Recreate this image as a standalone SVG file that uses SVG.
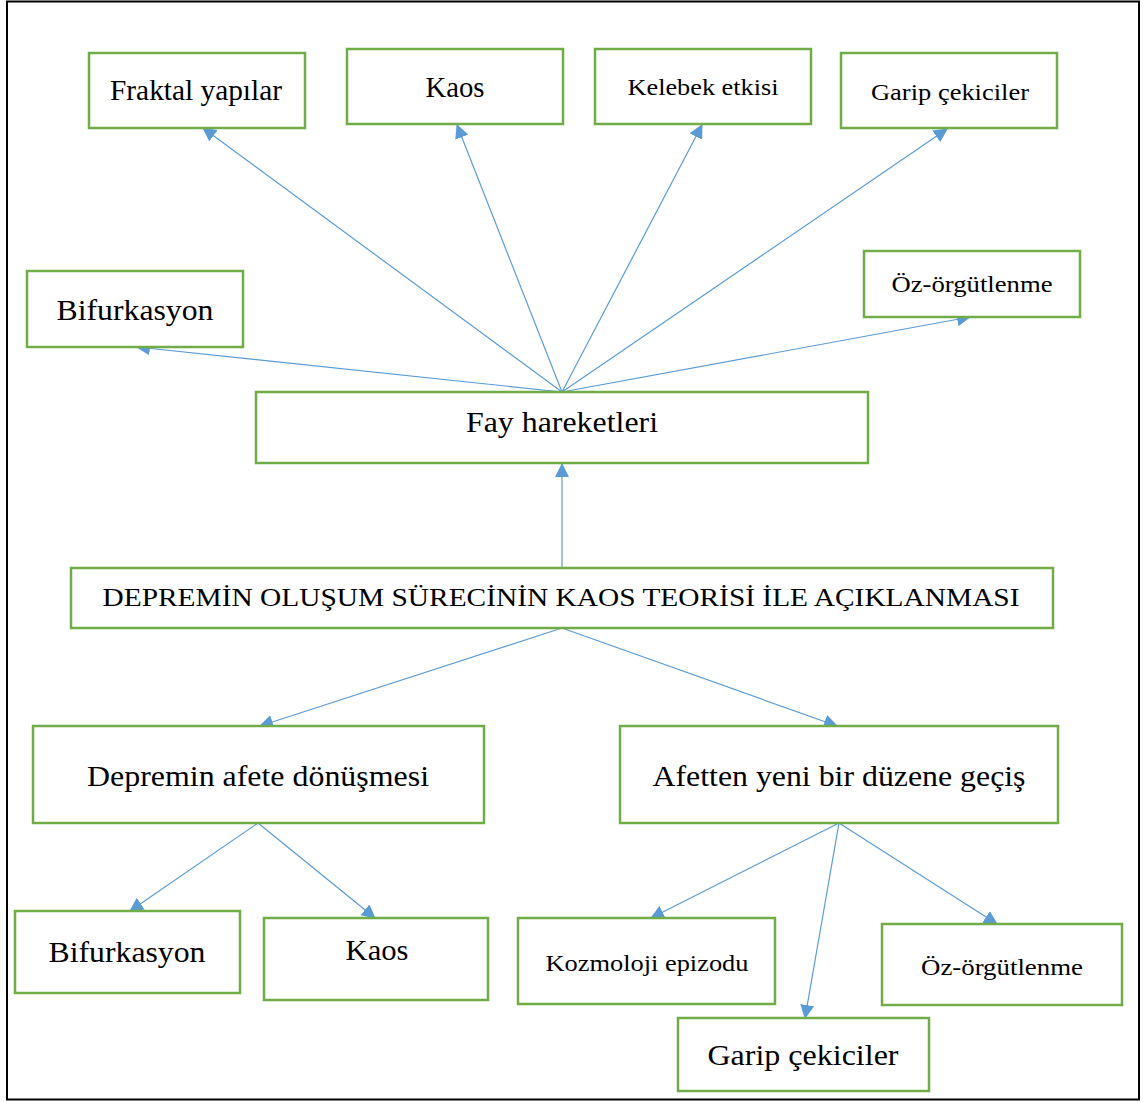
<svg xmlns="http://www.w3.org/2000/svg" width="1146" height="1102" viewBox="0 0 1146 1102">
<style>
.box{fill:#fff;stroke:#70AD47;stroke-width:2.5}
.t{font-family:"Liberation Serif","Times New Roman",serif;fill:#000;text-anchor:middle}
.l{font-size:29px}
.s{font-size:24px}
.c{stroke:#5B9BD5;stroke-width:1.2;fill:none;marker-end:url(#ah)}
</style>
<defs>
<marker id="ah" markerUnits="userSpaceOnUse" markerWidth="14" markerHeight="14" viewBox="0 0 14 14" refX="13" refY="7" orient="auto">
<path d="M0,0 L14,7 L0,14 Z" fill="#5B9BD5"/>
</marker>
</defs>
<rect x="0" y="0" width="1146" height="1102" fill="#fff"/>
<rect x="7" y="1.5" width="1132" height="1098" fill="none" stroke="#000" stroke-width="2"/>
<g id="connectors">
<line class="c" x1="562" y1="392" x2="203" y2="128"/>
<line class="c" x1="562" y1="392" x2="457" y2="125"/>
<line class="c" x1="562" y1="392" x2="702" y2="125"/>
<line class="c" x1="562" y1="392" x2="947" y2="129"/>
<line class="c" x1="562" y1="392" x2="137" y2="347"/>
<line class="c" x1="562" y1="392" x2="970" y2="317"/>
<line class="c" x1="562" y1="568" x2="562" y2="464"/>
<line class="c" x1="562" y1="628" x2="260" y2="726"/>
<line class="c" x1="562" y1="628" x2="837" y2="726"/>
<line class="c" x1="258" y1="823" x2="130" y2="911"/>
<line class="c" x1="258" y1="823" x2="375" y2="918"/>
<line class="c" x1="839" y1="823" x2="651" y2="918"/>
<line class="c" x1="839" y1="823" x2="805" y2="1018"/>
<line class="c" x1="839" y1="823" x2="997" y2="924"/>
</g>
<g id="n-fraktal"><rect class="box" x="89" y="53" width="216" height="75"/><text class="t l" x="196" y="100" textLength="172" lengthAdjust="spacingAndGlyphs">Fraktal yapılar</text></g>
<g id="n-kaos-top"><rect class="box" x="347" y="49" width="216" height="75"/><text class="t l" x="455" y="97" textLength="59" lengthAdjust="spacingAndGlyphs">Kaos</text></g>
<g id="n-kelebek"><rect class="box" x="595" y="49" width="216" height="75"/><text class="t s" x="703" y="95" textLength="151" lengthAdjust="spacingAndGlyphs">Kelebek etkisi</text></g>
<g id="n-garip-top"><rect class="box" x="841" y="53" width="216" height="75"/><text class="t s" x="950" y="100" textLength="158" lengthAdjust="spacingAndGlyphs">Garip çekiciler</text></g>
<g id="n-bifurkasyon-top"><rect class="box" x="27" y="271" width="216" height="76"/><text class="t l" x="135" y="320" textLength="157" lengthAdjust="spacingAndGlyphs">Bifurkasyon</text></g>
<g id="n-oz-top"><rect class="box" x="864" y="251" width="216" height="66"/><text class="t s" x="972" y="292" textLength="161" lengthAdjust="spacingAndGlyphs">Öz-örgütlenme</text></g>
<g id="n-fay"><rect class="box" x="256" y="392" width="612" height="71"/><text class="t l" x="562" y="432" textLength="192" lengthAdjust="spacingAndGlyphs">Fay hareketleri</text></g>
<g id="n-deprem"><rect class="box" x="71" y="568" width="982" height="60"/><text class="t" style="font-size:26px" x="561" y="606" textLength="917" lengthAdjust="spacingAndGlyphs">DEPREMİN OLUŞUM SÜRECİNİN KAOS TEORİSİ İLE AÇIKLANMASI</text></g>
<g id="n-afete"><rect class="box" x="33" y="726" width="451" height="97"/><text class="t l" x="258" y="786" textLength="342" lengthAdjust="spacingAndGlyphs">Depremin afete dönüşmesi</text></g>
<g id="n-afetten"><rect class="box" x="620" y="726" width="438" height="97"/><text class="t l" x="839" y="786" textLength="373" lengthAdjust="spacingAndGlyphs">Afetten yeni bir düzene geçiş</text></g>
<g id="n-bifurkasyon-bot"><rect class="box" x="15" y="911" width="225" height="82"/><text class="t l" x="127" y="962" textLength="157" lengthAdjust="spacingAndGlyphs">Bifurkasyon</text></g>
<g id="n-kaos-bot"><rect class="box" x="264" y="918" width="224" height="82"/><text class="t l" x="377" y="960" textLength="63" lengthAdjust="spacingAndGlyphs">Kaos</text></g>
<g id="n-kozmoloji"><rect class="box" x="518" y="918" width="257" height="86"/><text class="t s" x="647" y="971" textLength="203" lengthAdjust="spacingAndGlyphs">Kozmoloji epizodu</text></g>
<g id="n-oz-bot"><rect class="box" x="882" y="924" width="240" height="81"/><text class="t s" x="1002" y="975" textLength="162" lengthAdjust="spacingAndGlyphs">Öz-örgütlenme</text></g>
<g id="n-garip-bot"><rect class="box" x="678" y="1018" width="251" height="73"/><text class="t l" x="803" y="1065" textLength="191" lengthAdjust="spacingAndGlyphs">Garip çekiciler</text></g>
</svg>
